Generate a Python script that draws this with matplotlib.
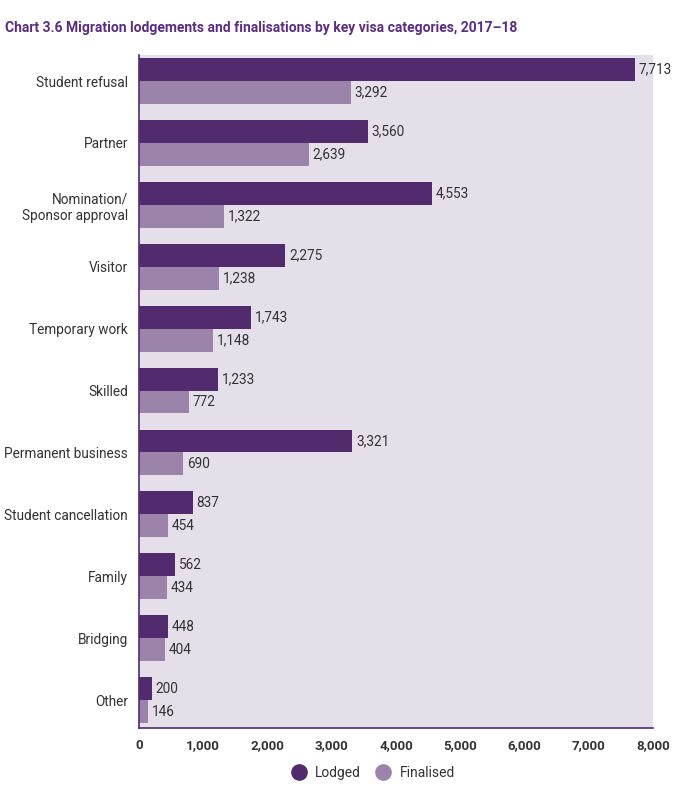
import numpy as np
import matplotlib
matplotlib.use("Agg")
import matplotlib.pyplot as plt
from matplotlib.lines import Line2D

# -------DADOS-------
categorias = ["Student refusal", "Partner", "Nomination/\nSponsor approval", "Visitor",
              "Temporary work", "Skilled", "Permanent business", "Student cancellation",
              "Family", "Bridging", "Other"]
lodged = [7713, 3560, 4553, 2275, 1743, 1233, 3321, 837, 562, 448, 200]
finalised = [3292, 2639, 1322, 1238, 1148, 772, 690, 454, 434, 404, 146]
xticks = [0, 1000, 2000, 3000, 4000, 5000, 6000, 7000, 8000]

cor_lodged = "#522a6e"
cor_final = "#9c83aa"
cor_fundo = "#e5dfea"
cor_titulo = "#5b2c83"

plt.rcParams['font.family'] = ['Roboto', 'DejaVu Sans']

fig = plt.figure(figsize=(6.75, 7.85), dpi=100)
ax = fig.add_axes([139/675, 1 - 728/785, (653 - 139)/675, (728 - 55)/785])
ax.set_facecolor(cor_fundo)

y = np.arange(len(categorias))
h = 0.37
ax.barh(y - h/2, lodged, height=h, color=cor_lodged, label="Lodged")
ax.barh(y + h/2, finalised, height=h, color=cor_final, label="Finalised")

# rótulos de valor
for yi, v in zip(y, lodged):
    ax.text(v + 60, yi - h/2, f"{v:,}", va="center", ha="left", fontsize=9.8, color="#333333")
for yi, v in zip(y, finalised):
    ax.text(v + 60, yi + h/2, f"{v:,}", va="center", ha="left", fontsize=9.8, color="#333333")

ax.set_ylim(len(categorias) - 0.55, -0.42)
ax.set_xlim(0, 8000)
ax.set_yticks(y)
ax.set_yticklabels(categorias, fontsize=9.8, color="#333333")
ax.set_xticks(xticks)
ax.set_xticklabels([f"{t:,}" for t in xticks], fontsize=9.6, fontweight="bold", color="#333333")
ax.tick_params(axis="both", length=0, pad=8)

for lado in ["top", "right"]:
    ax.spines[lado].set_visible(False)
ax.spines["left"].set_color(cor_lodged)
ax.spines["bottom"].set_color(cor_lodged)
ax.spines["left"].set_linewidth(1.2)
ax.spines["bottom"].set_linewidth(1.2)

fig.text(5/675, 1 - 28/785, "Chart 3.6 Migration lodgements and finalisations by key visa categories, 2017\u201318",
         fontsize=10, fontweight="bold", color=cor_titulo, va="center", ha="left")

handles = [Line2D([0], [0], marker="o", color="none", markerfacecolor=cor_lodged, markeredgecolor=cor_lodged,
                  markersize=11, label="Lodged"),
           Line2D([0], [0], marker="o", color="none", markerfacecolor=cor_final, markeredgecolor=cor_final,
                  markersize=11, label="Finalised")]
fig.legend(handles=handles, loc="center", bbox_to_anchor=(370/675, 1 - 773/785), ncol=2, frameon=False,
           fontsize=10, handletextpad=0.2, columnspacing=0.6, labelcolor="#333333")

fig.savefig("out.png", dpi=100)
